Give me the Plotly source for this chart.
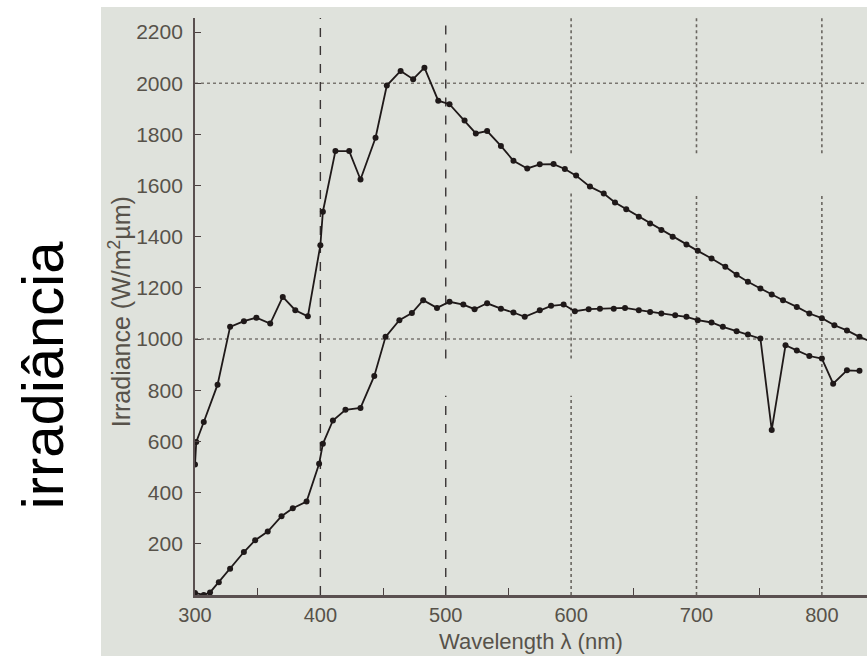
import plotly.graph_objects as go

# Upper curve: extraterrestrial solar irradiance
upper_nm = [300, 301, 307, 318, 328, 339, 349, 360, 370, 380, 390, 400, 402, 412, 423, 432,
            444, 453, 464, 474, 483, 494, 503, 515, 524, 533, 544, 554, 565, 575, 586, 595,
            604, 615, 626, 635, 644, 654, 663, 672, 681, 692, 701, 712, 723, 732, 741, 751,
            760, 769, 780, 790, 800, 810, 820, 830, 840]
upper_val = [510, 598, 676, 822, 1048, 1070, 1084, 1061, 1165, 1113, 1089, 1367, 1498, 1735, 1735, 1624,
             1787, 1991, 2048, 2016, 2061, 1932, 1918, 1854, 1804, 1813, 1755, 1697, 1667, 1683, 1684, 1665,
             1639, 1596, 1569, 1534, 1508, 1478, 1452, 1426, 1400, 1370, 1345, 1315, 1283, 1252, 1224, 1198,
             1174, 1152, 1126, 1100, 1082, 1054, 1034, 1009, 988]

# Lower curve: irradiance at ground level
lower_nm = [300, 307, 312, 319, 328, 339, 348, 358, 369, 378, 389, 399, 402, 410, 420, 432,
            443, 452, 463, 473, 482, 493, 503, 514, 523, 533, 544, 554, 563, 575, 584, 594,
            603, 614, 623, 634, 643, 654, 663, 672, 683, 692, 701, 712, 721, 732, 741, 751,
            760, 771, 780, 790, 800, 809, 820, 830]
lower_val = [8, 0, 10, 50, 103, 168, 214, 248, 308, 339, 365, 513, 591, 682, 724, 731,
             856, 1009, 1074, 1102, 1152, 1122, 1146, 1135, 1117, 1140, 1119, 1104, 1087, 1113, 1130, 1135,
             1109, 1117, 1119, 1119, 1122, 1113, 1106, 1100, 1093, 1087, 1074, 1065, 1048, 1031, 1018, 1002,
             645, 976, 956, 934, 924, 826, 878, 876]

x_ticks = [300, 400, 500, 600, 700, 800]
y_ticks = [200, 400, 600, 800, 1000, 1200, 1400, 1600, 1800, 2000, 2200]

XMIN, XMAX = 300, 836
YMIN, YMAX = 0, 2255

line_col = "#1f1919"
label_col = "#57524a"
fnt = "Liberation Sans, Arial, sans-serif"

fig = go.Figure()
for xs, ys in [(upper_nm, upper_val), (lower_nm, lower_val)]:
    fig.add_trace(go.Scatter(x=xs, y=ys, mode="lines+markers",
                             line=dict(color=line_col, width=1.8),
                             marker=dict(color=line_col, size=6),
                             showlegend=False, cliponaxis=True))

shapes = []
# photo background
shapes.append(dict(type="rect", xref="paper", yref="paper", x0=-0.1399, x1=1.0,
                   y0=-0.1057, y1=1.019, fillcolor="#dfe2dc", line=dict(width=0), layer="below"))
# horizontal grid lines
for yv in [1000, 2000]:
    shapes.append(dict(type="line", xref="x", yref="y", x0=XMIN, x1=XMAX, y0=yv, y1=yv,
                       line=dict(color="#7a7670", width=1.5, dash="dot"), layer="below"))
# vertical grid lines (segments, as in the reference)
vsegs = {
    400: [(0, YMAX)],
    500: [(0, 779), (924, YMAX)],
    600: [(0, 779), (924, 1569), (1726, YMAX)],
    700: [(0, 1569), (1726, YMAX)],
    800: [(0, 1569), (1726, YMAX)],
}
for xv, segs in vsegs.items():
    dark = xv in (400, 500)
    for a, b in segs:
        shapes.append(dict(type="line", xref="x", yref="y", x0=xv, x1=xv, y0=a, y1=b,
                           line=dict(color="#3a3535" if dark else "#6a6660",
                                     width=1.4 if dark else 1.6,
                                     dash="dash" if dark else "dot"),
                           layer="below"))

fig.update_layout(
    width=867, height=656,
    margin=dict(l=195, r=0, t=18, b=61),
    paper_bgcolor="white",
    plot_bgcolor="rgba(0,0,0,0)",
    shapes=shapes,
    font=dict(family=fnt, color=label_col, size=16),
    xaxis=dict(range=[XMIN, XMAX], tickvals=x_ticks, ticks="", showgrid=False, zeroline=False,
               showline=True, linecolor="#5a5050", linewidth=2.5,
               tickfont=dict(family=fnt, size=20, color=label_col), ticklabelstandoff=0,
               minor=dict(tickvals=[350, 450, 550, 650, 750], ticks="inside", ticklen=7,
                          tickcolor="#4a4040", tickwidth=1.2, showgrid=False)),
    yaxis=dict(range=[YMIN, YMAX], tickvals=y_ticks, ticks="inside", ticklen=6,
               tickcolor="#4a4040", tickwidth=1.2, showgrid=False, zeroline=False,
               showline=True, linecolor="#5a5050", linewidth=1.8,
               tickfont=dict(family=fnt, size=21, color=label_col), ticklabelstandoff=6),
    annotations=[
        dict(text="Wavelength λ (nm)", xref="paper", yref="paper", x=0.5, y=-0.081,
             showarrow=False, xanchor="center", yanchor="middle",
             font=dict(family=fnt, size=22, color=label_col)),
        dict(text="Irradiance (W/m<sup>2</sup>µm)", xref="paper", yref="paper", x=-0.1116, y=0.49,
             showarrow=False, textangle=-90, xanchor="center", yanchor="middle",
             font=dict(family=fnt, size=25, color=label_col)),
        dict(text="irradiância", xref="paper", yref="paper", x=-0.2277, y=0.381,
             showarrow=False, textangle=-90, xanchor="center", yanchor="middle",
             font=dict(family=fnt, size=58, color="black")),
    ],
)

fig.write_html("out.html", post_script="document.body.style.margin='0';",
               config={"displayModeBar": False})
